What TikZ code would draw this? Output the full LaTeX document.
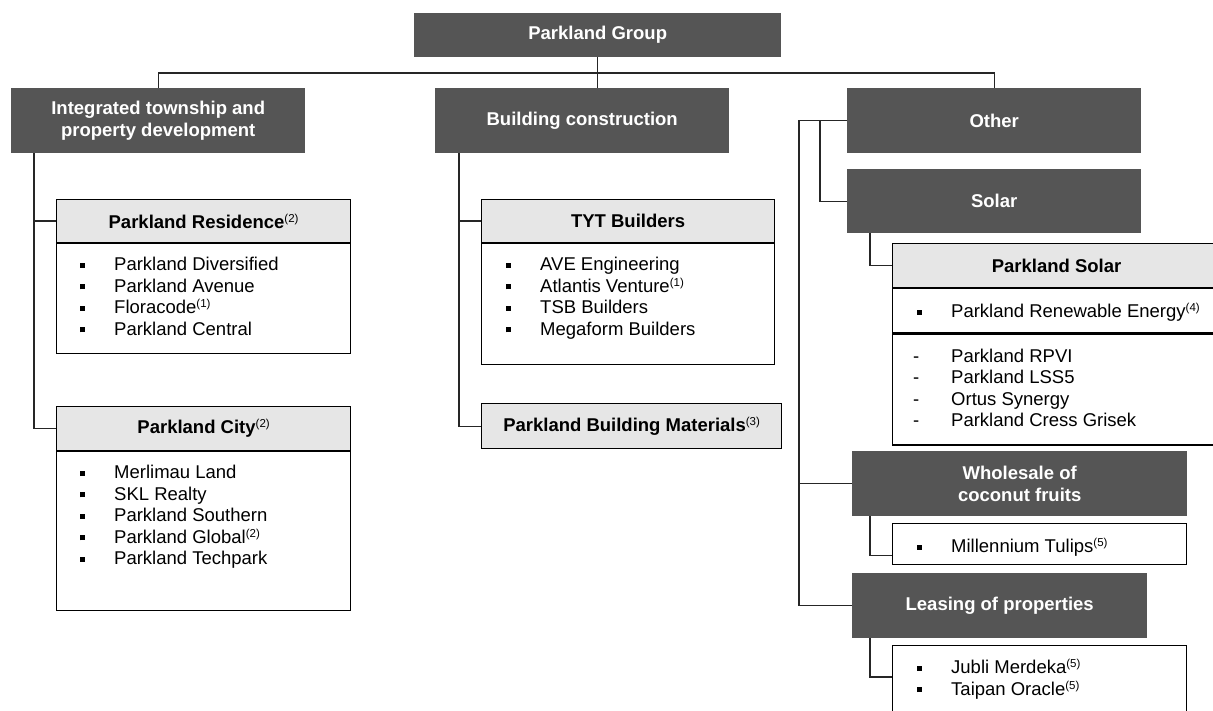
\documentclass[tikz,border=0pt]{standalone}
\usepackage{fontspec}
\setmainfont{Liberation Sans}
\usetikzlibrary{calc}

\definecolor{boxgray}{RGB}{85,85,85}
\definecolor{headgray}{RGB}{230,230,230}

\newcommand{\fn}[1]{\raisebox{6pt}{\fontsize{11.5}{11.5}\selectfont\mdseries(#1)}}
\newcommand{\bul}[1]{\makebox[34pt][l]{\rule[3pt]{5pt}{5pt}}#1}
\newcommand{\dsh}[1]{\makebox[38pt][l]{-}#1}

\begin{document}
\begin{tikzpicture}[x=1pt,y=-1pt,
  every node/.style={font=\fontsize{18.5}{21.5}\selectfont,inner sep=0pt},
  dark/.style={fill=boxgray,text=white,font=\fontsize{18.5}{21.5}\selectfont\bfseries,
               align=center,anchor=north west},
  head/.style={draw,fill=headgray,line width=1.2pt,
               font=\fontsize{18.5}{21.5}\selectfont\bfseries,anchor=north west},
  list/.style={draw,fill=white,line width=1.2pt,anchor=north west},
  items/.style={anchor=north west,align=left},
  link/.style={line width=1.2pt,black!85}]

\useasboundingbox (0,0) rectangle (1213,711);
\clip (0,0) rectangle (1213,711);

% top and segments
\node[dark,minimum width=367,minimum height=44] (group) at (414,13) {Parkland Group};
\node[dark,minimum width=294,minimum height=65] (itp) at (11,88) {Integrated township and\\property development};
\node[dark,minimum width=294,minimum height=65] (bc) at (435,88) {Building construction};
\node[dark,minimum width=294,minimum height=65] (other) at (847,88) {Other};
\node[dark,minimum width=294,minimum height=64] (solar) at (847,169) {Solar};
\node[dark,minimum width=335,minimum height=65] (wcf) at (852,451) {Wholesale of\\coconut fruits};
\node[dark,minimum width=295,minimum height=65] (lop) at (852,573) {Leasing of properties};

% township
\node[head,minimum width=294,minimum height=43] (prh) at (56,199) {Parkland Residence\fn{2}};
\node[list,minimum width=294,minimum height=110] (prb) at (prh.south west) {};
\node[items] (prl) at ($(prb.north west)+(24,14)$)
  {\bul{Parkland Diversified}\\\bul{Parkland Avenue}\\\bul{Floracode\fn{1}}\\\bul{Parkland Central}};

\node[head,minimum width=294,minimum height=44] (pch) at (56,406) {Parkland City\fn{2}};
\node[list,minimum width=294,minimum height=159] (pcb) at (pch.south west) {};
\node[items] (pcl) at ($(pcb.north west)+(24,14)$)
  {\bul{Merlimau Land}\\\bul{SKL Realty}\\\bul{Parkland Southern}\\\bul{Parkland Global\fn{2}}\\\bul{Parkland Techpark}};

% construction
\node[head,minimum width=293,minimum height=43] (tyth) at (481,199) {TYT Builders};
\node[list,minimum width=293,minimum height=121] (tytb) at (tyth.south west) {};
\node[items] (tytl) at ($(tytb.north west)+(25,14)$)
  {\bul{AVE Engineering}\\\bul{Atlantis Venture\fn{1}}\\\bul{TSB Builders}\\\bul{Megaform Builders}};

\node[head,minimum width=300,minimum height=45] (pbm) at (481,403) {Parkland Building Materials\fn{3}};

% other
\node[head,minimum width=328,minimum height=44] (psh) at (892,243) {Parkland Solar};
\node[list,minimum width=328,minimum height=44] (psr1) at (psh.south west) {};
\node[items] (psl1) at ($(psr1.north west)+(25,15)$) {\bul{Parkland Renewable Energy\fn{4}}};
\node[list,minimum width=328,minimum height=111] (psr2) at (psr1.south west) {};
\node[items] (psl2) at ($(psr2.north west)+(21,15)$)
  {\dsh{Parkland RPVI}\\\dsh{Parkland LSS5}\\\dsh{Ortus Synergy}\\\dsh{Parkland Cress Grisek}};

\node[list,minimum width=294,minimum height=41] (mtb) at (892,523) {};
\node[items] (mtl) at ($(mtb.north west)+(25,15)$) {\bul{Millennium Tulips\fn{5}}};

\node[list,minimum width=294,minimum height=80] (jmb) at (892,645) {};
\node[items] (jml) at ($(jmb.north west)+(25,14)$) {\bul{Jubli Merdeka\fn{5}}\\\bul{Taipan Oracle\fn{5}}};

% connectors
\coordinate (bus) at (597.5,73);
\draw[link] (group.south) -- (group.south |- bc.north);
\draw[link] (itp.north) |- (bus) -| (other.north);

\coordinate (itpspine) at ($(itp.south west)+(23,0)$);
\draw[link] (itpspine) |- (prh.west);
\draw[link] (itpspine) |- (pch.west);

\coordinate (bcspine) at ($(bc.south west)+(24,0)$);
\draw[link] (bcspine) |- (tyth.west);
\draw[link] (bcspine) |- (pbm.west);

\coordinate (outer) at ($(other.west)+(-48,0)$);
\draw[link] (other.west) -- (outer) |- (lop.west);
\draw[link] (outer) |- (wcf.west);
\draw[link] ($(other.west)+(-27,0)$) |- (solar.west);

\draw[link] ($(solar.south west)+(23,0)$) |- (psh.west);
\draw[link] ($(wcf.south west)+(18,0)$) |- ($(mtb.south west)+(0,-10)$);
\draw[link] ($(lop.south west)+(18,0)$) |- ($(jmb.north west)+(0,32)$);
\end{tikzpicture}
\end{document}
